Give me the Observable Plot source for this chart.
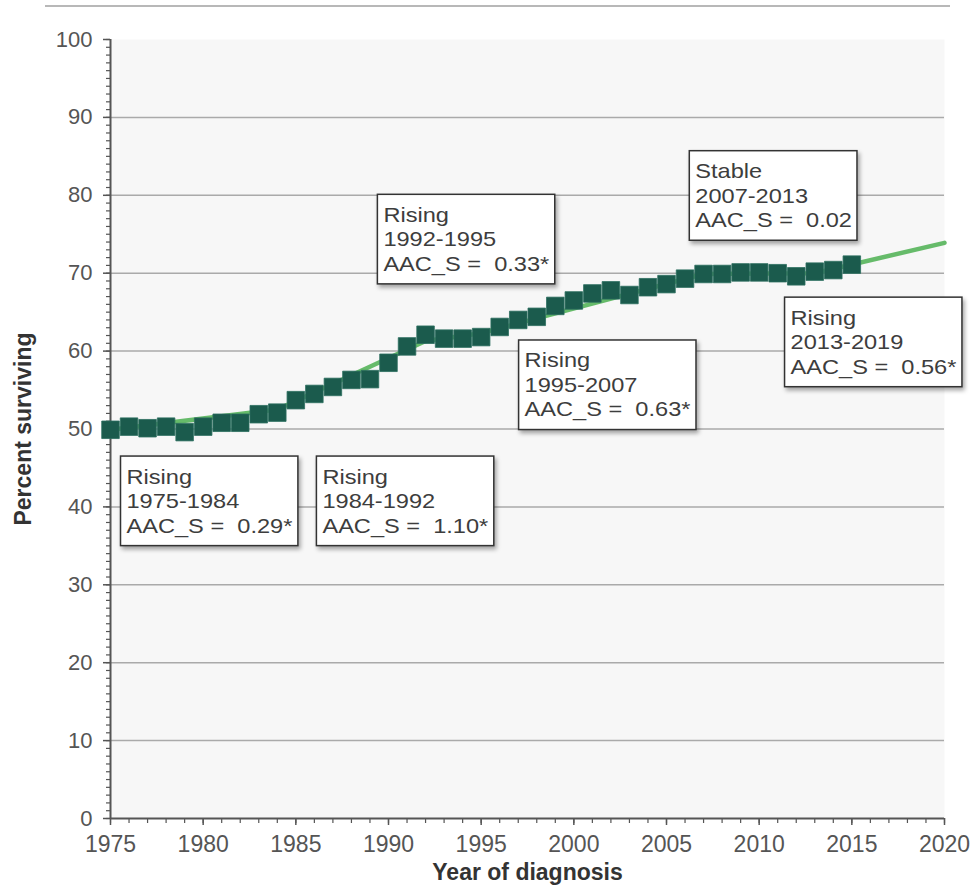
<!DOCTYPE html>
<html>
<head>
<meta charset="utf-8">
<script src="https://cdn.jsdelivr.net/npm/d3@7"></script>
<script src="https://cdn.jsdelivr.net/npm/@observablehq/plot@0.6"></script>
<style>
  html, body { margin: 0; padding: 0; background: #fff; overflow: hidden; }
  #wrap { position: relative; width: 972px; height: 886px; }
  #topline { position: absolute; left: 45px; top: 5px; width: 905px; border-top: 2px solid #b8b8b8; z-index: 2; }
  #chart svg { display: block; }
</style>
</head>
<body>
<div id="wrap"><div id="topline"></div><div id="chart"></div></div>
<script>
// Observed relative survival by year of diagnosis
const years = [1975,1976,1977,1978,1979,1980,1981,1982,1983,1984,1985,1986,1987,1988,1989,1990,1991,1992,1993,1994,1995,1996,1997,1998,1999,2000,2001,2002,2003,2004,2005,2006,2007,2008,2009,2010,2011,2012,2013,2014,2015];
const surviving = [49.9,50.3,50.1,50.3,49.6,50.3,50.8,50.8,51.9,52.1,53.7,54.5,55.4,56.3,56.4,58.5,60.6,62.1,61.6,61.6,61.8,63.1,64.0,64.4,65.8,66.5,67.4,67.8,67.2,68.2,68.6,69.3,69.9,69.9,70.1,70.1,70.0,69.6,70.2,70.4,71.1];

// Joinpoint fitted trend (segment end points)
const fitYears = [1975,1984,1992,1995,2007,2013,2020];
const fitValues = [49.9,52.5,61.3,62.3,69.9,70.0,73.9];

// Tick labels
const yTicks = [0,10,20,30,40,50,60,70,80,90,100];
const gridTicks = [10,20,30,40,50,60,70,80,90];
const xTicks = [1975,1980,1985,1990,1995,2000,2005,2010,2015,2020];

// Annotation boxes: text and anchor (top-left corner, in data units)
const annTrend  = ["Rising","Rising","Rising","Stable","Rising","Rising"];
const annPeriod = ["1975-1984","1984-1992","1992-1995","2007-2013","1995-2007","2013-2019"];
const annAAC    = ["0.29*","1.10*","0.33*","0.02","0.63*","0.56*"];
const annYear   = [1975.54,1986.11,1989.40,2006.23,1997.02,2011.37];
const annPct    = [46.9,46.9,80.5,86.1,61.8,67.3];

const data = years.map((y, i) => ({year: y, pct: surviving[i]}));
const fit = fitYears.map((y, i) => ({year: y, pct: fitValues[i]}));
const ann = annTrend.map((t, i) => ({
  year: annYear[i], pct: annPct[i],
  label: `${t}\n${annPeriod[i]}\nAAC_S = \u00A0${annAAC[i]}`
}));

const yMinor = d3.range(0, 101, 1);
const xMinor = d3.range(1975, 2021, 1);

const plot = Plot.plot({
  width: 972,
  height: 886,
  marginLeft: 110,
  marginRight: 28,
  marginTop: 39,
  marginBottom: 68,
  x: {domain: [1975, 2020]},
  y: {domain: [0, 100]},
  style: {fontFamily: "'Liberation Sans', Arial, sans-serif", fontSize: "22px", background: "transparent", color: "#555"},
  marks: [
    Plot.frame({fill: "#f7f7f7", stroke: "none"}),
    Plot.gridY({ticks: gridTicks, stroke: "#aaaaaa", strokeOpacity: 1, strokeWidth: 1.5}),
    Plot.axisY({ticks: yMinor, tickSize: 4, tickFormat: () => "", label: null, stroke: "#555", strokeWidth: 1.2}),
    Plot.axisX({ticks: xMinor, tickSize: 5, tickFormat: () => "", label: null, stroke: "#555", strokeWidth: 1.2}),
    Plot.axisY({ticks: yTicks, tickSize: 7, tickPadding: 11, fontSize: 22, label: null, stroke: "#555", fill: "#555", strokeWidth: 1.5}),
    Plot.axisX({ticks: xTicks, tickSize: 7, tickPadding: 10, fontSize: 23, tickFormat: d => String(d), label: null, stroke: "#555", fill: "#555", strokeWidth: 1.5}),
    Plot.ruleX([1975], {stroke: "#555", strokeWidth: 2}),
    Plot.ruleY([0], {stroke: "#555", strokeWidth: 2}),
    Plot.line(fit, {x: "year", y: "pct", stroke: "#66bb6a", strokeWidth: 4.5}),
    Plot.dot(data, {x: "year", y: "pct", symbol: "square", r: 9.9, fill: "#1b5b4d", stroke: "#2c6f5f", strokeWidth: 0.8}),
    Plot.text(ann, {x: "year", y: "pct", text: "label", textAnchor: "start", lineAnchor: "top",
      lineHeight: 1.225, fontSize: 20, fill: "#3d3d3d", dx: 6, dy: 13, ariaDescription: "annotation"}),
    Plot.text(["Percent surviving"], {frameAnchor: "left", textAnchor: "middle", lineAnchor: "middle", dx: -87, rotate: -90, fontWeight: "bold", fontSize: 23, fill: "#333"}),
    Plot.text(["Year of diagnosis"], {frameAnchor: "bottom", textAnchor: "middle", lineAnchor: "middle", dy: 54, fontWeight: "bold", fontSize: 23, fill: "#333"})
  ]
});

document.getElementById("chart").appendChild(plot);

// Stretch annotation text horizontally and draw framed boxes behind it
const svgNS = "http://www.w3.org/2000/svg";
const svgBox = plot.getBoundingClientRect();
plot.querySelectorAll('g[aria-description="annotation"] text').forEach(t => {
  const tr = t.getAttribute("transform");
  if (tr) {
    t.setAttribute("transform", tr + " scale(1.18,1)");
  } else {
    const x = t.getAttribute("x") || 0, y = t.getAttribute("y") || 0;
    t.removeAttribute("x"); t.removeAttribute("y");
    t.setAttribute("transform", `translate(${x},${y}) scale(1.18,1)`);
  }
  const bb = t.getBoundingClientRect();
  const r = document.createElementNS(svgNS, "rect");
  r.setAttribute("x", bb.left - svgBox.left - 6);
  r.setAttribute("y", bb.top - svgBox.top - 9.2);
  r.setAttribute("width", bb.width + 11);
  r.setAttribute("height", bb.height + 17.7);
  r.setAttribute("fill", "#fff");
  r.setAttribute("stroke", "#333");
  r.setAttribute("stroke-width", "1.5");
  r.style.filter = "drop-shadow(2px 3px 2px rgba(0,0,0,0.35))";
  const g = t.parentNode;
  const gtr = g.getAttribute("transform");
  if (gtr) {
    const m = /translate\(([-\d.]+)[ ,]+([-\d.]+)\)/.exec(gtr);
    if (m) {
      r.setAttribute("x", +r.getAttribute("x") - +m[1]);
      r.setAttribute("y", +r.getAttribute("y") - +m[2]);
    }
  }
  g.insertBefore(r, t);
});
</script>
</body>
</html>
